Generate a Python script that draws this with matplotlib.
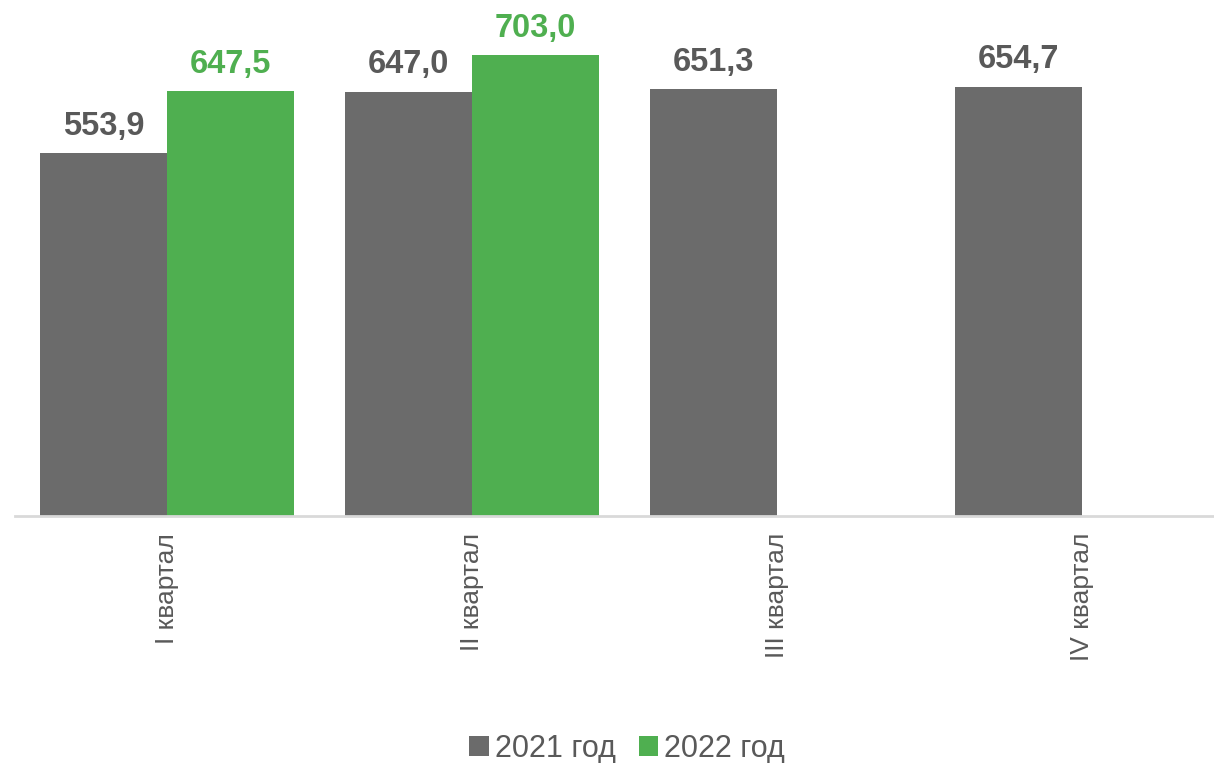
import matplotlib.pyplot as plt
import numpy as np

plt.rcParams['font.family'] = ['Liberation Sans', 'DejaVu Sans']

quarters = ['I квартал', 'II квартал', 'III квартал', 'IV квартал']
y2021 = [553.9, 647.0, 651.3, 654.7]
y2022 = [647.5, 703.0, None, None]
labels = ['2021 год', '2022 год']

gray = '#6b6b6b'
green = '#4faf50'
text_gray = '#595959'

fig = plt.figure(figsize=(12.14, 7.63), dpi=100)
ax = fig.add_axes([14.5 / 1214, (763 - 516) / 763, 1220 / 1214, 516 / 763])

x = np.arange(len(quarters))
w = 0.417
off = 0.2085

b1 = ax.bar(x - off, y2021, w, color=gray, label=labels[0])
x2 = [xi + off for xi, v in zip(x, y2022) if v is not None]
v2 = [v for v in y2022 if v is not None]
b2 = ax.bar(x2, v2, w, color=green, label=labels[1])

for xi, v in zip(x - off, y2021):
    ax.annotate(f'{v:.1f}'.replace('.', ','), (xi, v), xytext=(0, 8),
                textcoords='offset points', ha='center', va='bottom',
                fontsize=23.5, fontweight='bold', color=text_gray)
for xi, v in zip(x2, v2):
    ax.annotate(f'{v:.1f}'.replace('.', ','), (xi, v), xytext=(0, 8),
                textcoords='offset points', ha='center', va='bottom',
                fontsize=23.5, fontweight='bold', color=green)

ax.set_xlim(-0.5, 3.5)
ax.set_ylim(0, 786.6)
ax.set_xticks(x)
ax.set_xticklabels(quarters, rotation=90, fontsize=19, color=text_gray, va='top')
ax.tick_params(axis='x', length=0, pad=12)
ax.set_yticks([])
for s in ['top', 'right', 'left']:
    ax.spines[s].set_visible(False)
ax.spines['bottom'].set_color('#d9d9d9')
ax.spines['bottom'].set_linewidth(2)

leg = fig.legend(handles=[b1, b2], labels=labels, loc='center', bbox_to_anchor=(627 / 1214, 1 - 749 / 763),
                 ncol=2, frameon=False, fontsize=22, handlelength=0.65, handleheight=0.65,
                 handletextpad=0.2, columnspacing=0.75)
for t in leg.get_texts():
    t.set_color(text_gray)

plt.savefig('out.png', dpi=100)
